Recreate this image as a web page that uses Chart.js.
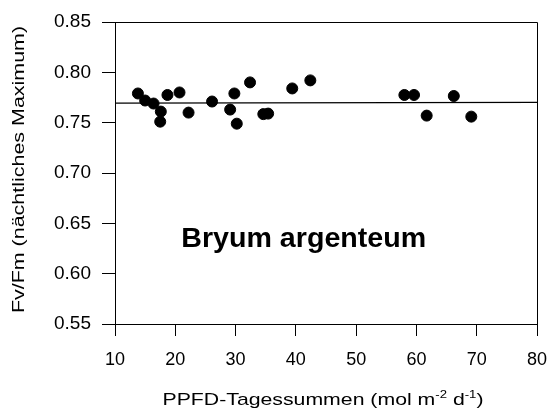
<!DOCTYPE html>
<html>
<head>
<meta charset="utf-8">
<script src="https://cdn.jsdelivr.net/npm/chart.js@4"></script>
<style>
  html, body { margin: 0; padding: 0; background: #fff; }
  #wrap { width: 552px; height: 411px; }
</style>
</head>
<body>
<div id="wrap"><canvas id="chart" width="552" height="411"></canvas></div>
<script>
// measured points: PPFD daily sum vs Fv/Fm
const ppfd = [13.8, 15.0, 16.4, 17.6, 17.5, 18.7, 20.7, 22.2, 26.1, 29.1, 29.8, 30.2, 32.4, 34.6, 35.4, 39.4, 42.4, 58.0, 59.6, 61.7, 66.2, 69.1];
const fvfm = [0.779, 0.772, 0.769, 0.761, 0.751, 0.7775, 0.780, 0.760, 0.771, 0.763, 0.779, 0.749, 0.790, 0.7585, 0.759, 0.784, 0.792, 0.7775, 0.7775, 0.757, 0.7765, 0.756];

// regression line ends
const fitX = [10, 80];
const fitY = [0.7695, 0.7702];

const xTicks = [10, 20, 30, 40, 50, 60, 70, 80];
const yTicks = [0.55, 0.60, 0.65, 0.70, 0.75, 0.80, 0.85];

const FONT = "'Liberation Sans', Arial, sans-serif";
Chart.defaults.font.family = FONT;
Chart.defaults.color = '#000';

// draw text squeezed/stretched along the baseline like the original
function stretchText(ctx, parts, x, y, size, stretch, bold, rotate) {
  ctx.save();
  ctx.translate(x, y);
  if (rotate) ctx.rotate(-Math.PI / 2);
  ctx.scale(stretch, 1);
  ctx.fillStyle = '#000';
  ctx.textBaseline = 'alphabetic';
  const w = (t, s) => { ctx.font = (bold ? 'bold ' : '') + s + 'px ' + FONT; return ctx.measureText(t).width; };
  let total = 0;
  parts.forEach(p => { total += w(p.t, p.sup ? size * 0.62 : size); });
  let cx = -total / 2;
  parts.forEach(p => {
    const s = p.sup ? size * 0.62 : size;
    ctx.font = (bold ? 'bold ' : '') + s + 'px ' + FONT;
    ctx.fillText(p.t, cx, p.sup ? -size * 0.42 : 0);
    cx += ctx.measureText(p.t).width;
  });
  ctx.restore();
}

const extras = {
  id: 'extras',
  afterDraw(chart) {
    const { ctx, chartArea: a, scales } = chart;
    ctx.save();
    ctx.strokeStyle = '#000';
    ctx.lineWidth = 1;
    ctx.beginPath();
    ctx.moveTo(a.left, a.top + 0.5);
    ctx.lineTo(a.right + 0.5, a.top + 0.5);
    ctx.lineTo(a.right + 0.5, a.bottom);
    ctx.stroke();
    ctx.restore();

    stretchText(ctx, [{ t: 'Bryum argenteum' }], scales.x.getPixelForValue(41.3), scales.y.getPixelForValue(0.6268), 27, 1.06, true, false);
    stretchText(ctx, [
      { t: 'PPFD-Tagessummen (mol m' }, { t: '-2', sup: true }, { t: ' d' }, { t: '-1', sup: true }, { t: ')' }
    ], 323, 405, 17, 1.25, false, false);
    stretchText(ctx, [{ t: 'Fv/Fm (nächtliches Maximum)' }], 24, 169.5, 16.5, 1.3, false, true);
  }
};

new Chart(document.getElementById('chart'), {
  type: 'scatter',
  data: {
    datasets: [{
      data: ppfd.map((x, i) => ({ x, y: fvfm[i] })),
      backgroundColor: '#000',
      borderColor: '#000',
      pointRadius: 5.5,
      pointHoverRadius: 5.5
    }, {
      type: 'line',
      data: fitX.map((x, i) => ({ x, y: fitY[i] })),
      borderColor: '#000',
      borderWidth: 1.3,
      pointRadius: 0,
      fill: false
    }]
  },
  options: {
    responsive: false,
    animation: false,
    layout: { padding: { top: 22, right: 15, left: 0, bottom: 0 } },
    plugins: { legend: { display: false }, tooltip: { enabled: false } },
    scales: {
      x: {
        type: 'linear', min: 10, max: 80,
        afterBuildTicks: s => { s.ticks = xTicks.map(v => ({ value: v })); },
        afterFit: s => { s.height = 87; s.paddingLeft = 0; s.paddingRight = 0; },
        ticks: { font: { size: 18 }, color: '#000', padding: 13, maxRotation: 0 },
        grid: { drawOnChartArea: false, drawTicks: true, tickLength: 12, color: '#000' },
        border: { display: true, color: '#000' }
      },
      y: {
        type: 'linear', min: 0.55, max: 0.85,
        afterBuildTicks: s => { s.ticks = yTicks.map(v => ({ value: v })); },
        afterFit: s => { s.width = 115; s.paddingTop = 0; s.paddingBottom = 0; },
        ticks: { font: { size: 19 }, color: '#000', padding: 11, callback: v => v.toFixed(2) },
        grid: { drawOnChartArea: false, drawTicks: true, tickLength: 13, color: '#000' },
        border: { display: true, color: '#000' }
      }
    }
  },
  plugins: [extras]
});
</script>
</body>
</html>
